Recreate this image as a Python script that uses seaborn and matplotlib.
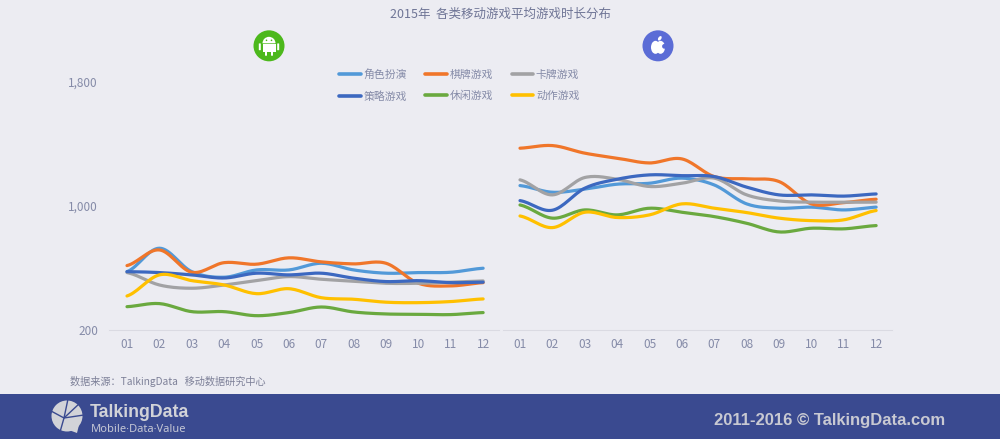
"""2015 mobile game average play time by genre, Android vs iOS"""

import numpy as np
import pandas as pd
import matplotlib
matplotlib.use("Agg")
import matplotlib.pyplot as plt
import seaborn as sns
from matplotlib.patches import Circle, Ellipse, Polygon, Rectangle, FancyBboxPatch, Wedge

months = ['01', '02', '03', '04', '05', '06', '07', '08', '09', '10', '11', '12']
genres = ['角色扮演', '棋牌游戏', '卡牌游戏', '策略游戏', '休闲游戏', '动作游戏']
genre_colors = ['#5299D8', '#F0762A', '#A2A2A4', '#3C68C0', '#6AA93F', '#FFC000']
y_ticks = [200, 1000, 1800]

android_role = [576, 727, 576, 540, 587, 587, 630, 587, 566, 570, 572, 598]
android_chess = [615, 716, 572, 634, 624, 665, 639, 626, 630, 501, 484, 505]
android_card = [570, 490, 469, 490, 518, 544, 527, 514, 501, 501, 508, 516]
android_strategy = [576, 570, 555, 535, 566, 555, 566, 534, 512, 518, 505, 508]
android_casual = [350, 370, 318, 318, 292, 312, 348, 316, 303, 301, 299, 312]
android_action = [419, 555, 518, 490, 434, 466, 408, 398, 379, 376, 383, 400]

ios_role = [1131, 1088, 1108, 1140, 1146, 1179, 1135, 1013, 985, 992, 974, 992]
ios_chess = [1372, 1389, 1340, 1308, 1277, 1303, 1189, 1174, 1157, 1013, 1021, 1043]
ios_card = [1168, 1071, 1183, 1172, 1125, 1146, 1179, 1071, 1032, 1024, 1024, 1024]
ios_strategy = [1034, 972, 1114, 1172, 1200, 1195, 1189, 1121, 1071, 1071, 1063, 1077]
ios_casual = [1006, 921, 974, 942, 985, 959, 931, 888, 832, 856, 852, 873]
ios_action = [935, 860, 959, 925, 942, 1013, 985, 957, 921, 905, 910, 970]

android_series = [android_role, android_chess, android_card, android_strategy, android_casual, android_action]
ios_series = [ios_role, ios_chess, ios_card, ios_strategy, ios_casual, ios_action]

BG = '#ECECF2'
BAND = '#3A4A90'
TEXT = '#858BA8'


def smooth_curve(values, steps=16):
    """Catmull-Rom curve through the values, same look as a smoothed office chart line"""
    p = np.array([values[0]] + list(values) + [values[-1]], dtype=float)
    xs, ys = [], []
    for i in range(1, len(p) - 2):
        t = np.linspace(0, 1, steps, endpoint=False)
        y = 0.5 * (2 * p[i] + (p[i + 1] - p[i - 1]) * t
                   + (2 * p[i - 1] - 5 * p[i] + 4 * p[i + 1] - p[i + 2]) * t ** 2
                   + (3 * p[i] - p[i - 1] - 3 * p[i + 1] + p[i + 2]) * t ** 3)
        xs.extend(i + t)
        ys.extend(y)
    xs.append(len(values))
    ys.append(values[-1])
    return xs, ys


def long_table(series):
    rows = []
    for genre, values in zip(genres, series):
        xs, ys = smooth_curve(values)
        rows.append(pd.DataFrame({'month': xs, 'value': ys, 'genre': genre}))
    return pd.concat(rows, ignore_index=True)


sns.set_style("white")
plt.rcParams['font.family'] = ['Noto Sans CJK SC', 'DejaVu Sans']

W, H = 1000, 439
# 4.39 * 100 truncates to 438 pixels, so nudge the height
fig = plt.figure(figsize=(W / 100, (H + 0.2) / 100), dpi=100, facecolor=BG)

# backdrop in pixel coordinates for the band, icons and free text
bg = fig.add_axes([0, 0, 1, 1], zorder=0)
bg.set_xlim(0, W)
bg.set_ylim(H, 0)
bg.axis('off')
bg.add_patch(Rectangle((0, 394.5), W, 45, color=BAND, lw=0))


def panel(left, right, xmin, xmax, series, show_y):
    ax = fig.add_axes([left / W, 1 - 330 / H, (right - left) / W, (330 - 82) / H], zorder=2)
    ax.patch.set_alpha(0)
    sns.lineplot(data=long_table(series), x='month', y='value', hue='genre', hue_order=genres,
                 palette=genre_colors, estimator=None, sort=False, linewidth=2.3,
                 legend=False, ax=ax)
    ax.set_xlim(xmin, xmax)
    ax.set_ylim(200, 1800)
    ax.set_xticks(range(1, 13))
    ax.set_xticklabels(months)
    ax.set_yticks(y_ticks if show_y else [])
    ax.set_yticklabels([f'{v:,}' for v in y_ticks] if show_y else [])
    ax.set_xlabel('')
    ax.set_ylabel('')
    ax.tick_params(axis='x', length=0, pad=6, labelsize=8.5, labelcolor=TEXT)
    ax.tick_params(axis='y', length=0, pad=8, labelsize=8.5, labelcolor=TEXT)
    for side in ['top', 'left', 'right']:
        ax.spines[side].set_visible(False)
    ax.spines['bottom'].set_color('#DADAE2')
    ax.spines['bottom'].set_linewidth(0.8)
    return ax


ax_android = panel(109, 499, 0.444, 12.49, android_series, True)
ax_ios = panel(503, 892, 0.475, 12.49, ios_series, False)

# legend, filled column by column
handles = [plt.Line2D([], [], color=c, lw=2.6, solid_capstyle='round') for c in genre_colors]
order = [0, 3, 1, 4, 2, 5]
fig.legend([handles[i] for i in order], [genres[i] for i in order], ncol=3, frameon=False,
           loc='upper left', bbox_to_anchor=(339 / W, 1 - 69 / H), fontsize=7.8, labelcolor=TEXT,
           handlelength=2.0, handletextpad=0.25, columnspacing=1.7, labelspacing=1.03,
           borderpad=0, borderaxespad=0)

# title and source
bg.text(500, 14, '2015年  各类移动游戏平均游戏时长分布', ha='center', va='center', fontsize=9, color='#6F7596')
bg.text(70, 381, '数据来源：TalkingData   移动数据研究中心', ha='left', va='center', fontsize=7.3, color='#7D8098')

# android badge
bg.add_patch(Circle((269, 46), 15.5, color='#4CB81C', lw=0))
bg.add_patch(Wedge((269, 43.5), 6.5, 180, 360, color='white', lw=0))
bg.add_patch(Rectangle((262.5, 44.5), 13, 8, color='white', lw=0))
for x in [259.8, 278.2]:
    bg.add_patch(FancyBboxPatch((x - 0.6, 44), 1.2, 6, boxstyle='round,pad=0.4', color='white', lw=0))
for x in [266, 272]:
    bg.add_patch(FancyBboxPatch((x - 0.6, 51.5), 1.2, 4, boxstyle='round,pad=0.4', color='white', lw=0))
for x in [266.5, 271.5]:
    bg.add_patch(Circle((x, 40.5), 0.8, color='#4CB81C', lw=0))

# apple badge
bg.add_patch(Circle((658, 46), 15.5, color='#5B6CD6', lw=0))
bg.add_patch(Ellipse((655.5, 47.5), 9, 13, color='white', lw=0))
bg.add_patch(Ellipse((660.5, 47.5), 9, 13, color='white', lw=0))
bg.add_patch(Circle((664.5, 46.5), 2.4, color='#5B6CD6', lw=0))
bg.add_patch(Ellipse((659.8, 38.5), 3, 5, angle=35, color='white', lw=0))

# footer logo: speech bubble with a cut pie inside
LOGO = '#D2D3D8'
bg.add_patch(Circle((67, 416), 15.5, color=LOGO, lw=0))
bg.add_patch(Polygon([(66, 429), (79, 425), (77, 433)], color=LOGO, lw=0))
for ex, ey in [(68, 399), (80, 403), (84, 415), (51, 411), (60, 432)]:
    bg.plot([64, ex], [418, ey], color=BAND, lw=1.0, solid_capstyle='butt')

bg.text(90, 412.5, 'TalkingData', ha='left', va='center', fontsize=12.8, fontweight='bold',
        family='Liberation Sans', color=LOGO)
bg.text(91, 429.5, 'Mobile·Data·Value', ha='left', va='center', fontsize=8,
        family='Noto Sans', color='#C4C6D4')
bg.text(945, 420, '2011-2016 © TalkingData.com', ha='right', va='center', fontsize=12,
        fontweight='bold', family='Liberation Sans', color='#C8C9D2')

fig.savefig('out.png', dpi=100, facecolor=BG)
